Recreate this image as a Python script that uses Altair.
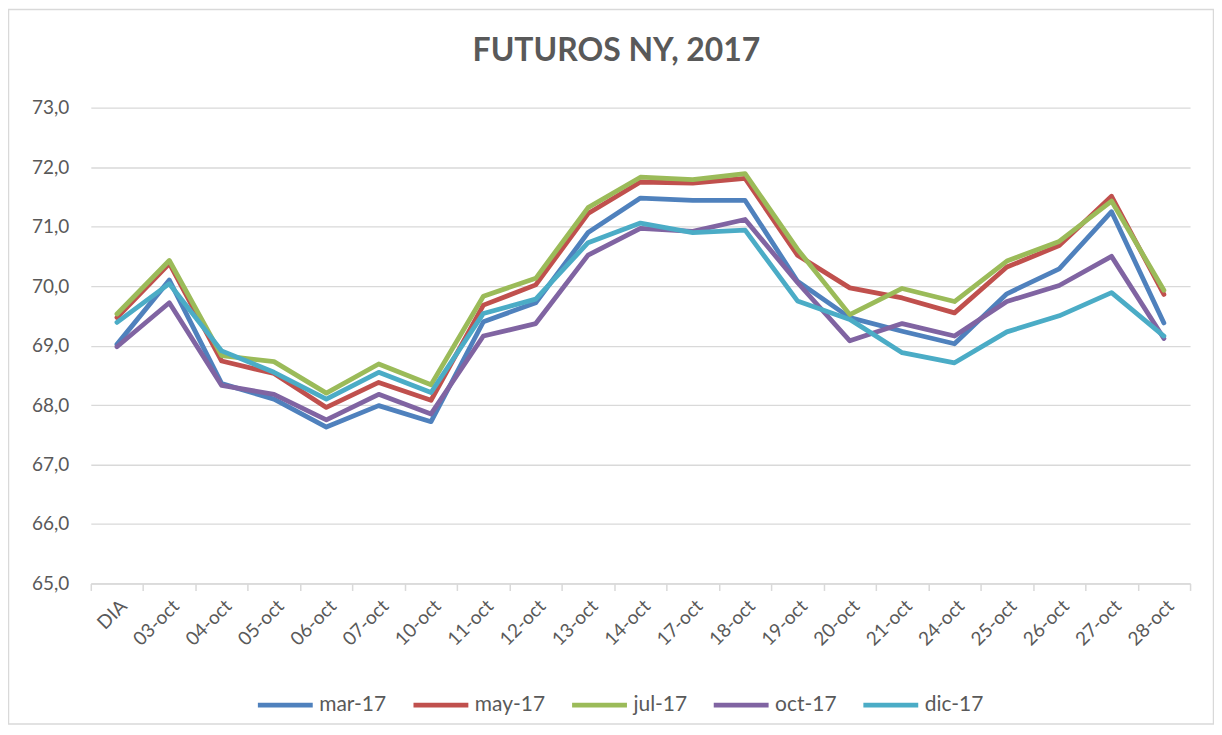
import altair as alt
import pandas as pd

dates = ["DIA", "03-oct", "04-oct", "05-oct", "06-oct", "07-oct", "10-oct", "11-oct",
         "12-oct", "13-oct", "14-oct", "17-oct", "18-oct", "19-oct", "20-oct", "21-oct",
         "24-oct", "25-oct", "26-oct", "27-oct", "28-oct"]

series = ["mar-17", "may-17", "jul-17", "oct-17", "dic-17"]
colors = ["#4F81BD", "#C0504D", "#9BBB59", "#8064A2", "#4BACC6"]

mar17 = [69.02, 70.10, 68.36, 68.10, 67.63, 67.99, 67.72, 69.40, 69.72, 70.90, 71.48,
         71.44, 71.44, 70.08, 69.47, 69.24, 69.03, 69.87, 70.29, 71.25, 69.38]
may17 = [69.47, 70.38, 68.74, 68.53, 67.96, 68.38, 68.08, 69.68, 70.02, 71.22, 71.75,
         71.73, 71.81, 70.52, 69.97, 69.80, 69.55, 70.32, 70.68, 71.51, 69.86]
jul17 = [69.53, 70.43, 68.83, 68.73, 68.20, 68.69, 68.34, 69.83, 70.13, 71.32, 71.83,
         71.79, 71.89, 70.62, 69.52, 69.96, 69.74, 70.42, 70.75, 71.43, 69.93]
oct17 = [68.98, 69.72, 68.33, 68.18, 67.75, 68.18, 67.85, 69.16, 69.37, 70.52, 70.97,
         70.92, 71.12, 70.06, 69.08, 69.37, 69.16, 69.74, 70.01, 70.50, 69.12]
dic17 = [69.39, 70.04, 68.91, 68.55, 68.10, 68.55, 68.21, 69.54, 69.78, 70.73, 71.06,
         70.90, 70.94, 69.75, 69.44, 68.88, 68.71, 69.23, 69.50, 69.89, 69.16]

y_ticks = [65, 66, 67, 68, 69, 70, 71, 72, 73]

values = [mar17, may17, jul17, oct17, dic17]
rows = []
for s, vals in zip(series, values):
    for d, v in zip(dates, vals):
        rows.append({"fecha": d, "serie": s, "valor": v})
df = pd.DataFrame(rows)

FONT = "Lato"
TXT = "#595959"
GRID = "#d9d9d9"

lines = alt.Chart(df).mark_line(strokeWidth=4.8, strokeJoin="round", strokeCap="round").encode(
    x=alt.X("fecha:N", sort=dates, bandPosition=0.5,
            scale=alt.Scale(type="band", paddingInner=0, paddingOuter=0),
            axis=alt.Axis(title=None, labelAngle=-45, labelFontSize=19, labelColor=TXT,
                          labelFont=FONT, domainColor=GRID, domainWidth=1.5,
                          tickColor=GRID, tickWidth=1.5, tickSize=7, tickBand="extent",
                          grid=False, labelPadding=6)),
    y=alt.Y("valor:Q", scale=alt.Scale(domain=[65, 73], nice=False, zero=False),
            axis=alt.Axis(title=None, values=y_ticks, domain=False, ticks=False,
                          labelExpr="replace(format(datum.value, '.1f'), '.', ',')",
                          labelFontSize=19, labelColor=TXT, labelFont=FONT,
                          labelPadding=22, gridColor=GRID, gridWidth=1.3)),
    color=alt.Color("serie:N", sort=series,
                    scale=alt.Scale(domain=series, range=colors),
                    legend=alt.Legend(title=None, orient="none", direction="horizontal",
                                      legendX=165, legendY=569,
                                      symbolType="stroke", symbolSize=3025,
                                      symbolStrokeWidth=4.8, labelFontSize=21,
                                      labelColor=TXT, labelFont=FONT, labelOffset=4,
                                      columnPadding=16)),
)

frame = alt.Chart(pd.DataFrame({"a": [0]})).mark_rect(
    fill=None, stroke=GRID, strokeWidth=1.5
).encode(
    x=alt.value(-82.5), x2=alt.value(1125.5), y=alt.value(-98.5), y2=alt.value(618)
)

chart = alt.layer(frame, lines).properties(
    width=1102, height=477,
    autosize=alt.AutoSizeParams(type="none"),
    padding={"left": 83, "top": 99, "right": 24, "bottom": 142},
    title=alt.TitleParams("FUTUROS NY, 2017", font=FONT, fontSize=32, fontWeight="bold",
                          color=TXT, anchor="middle", dx=-24, dy=126.5, offset=42,
                          baseline="alphabetic"),
).configure_view(stroke=None)

chart.save("out.html", embed_options={"renderer": "svg", "actions": False})
